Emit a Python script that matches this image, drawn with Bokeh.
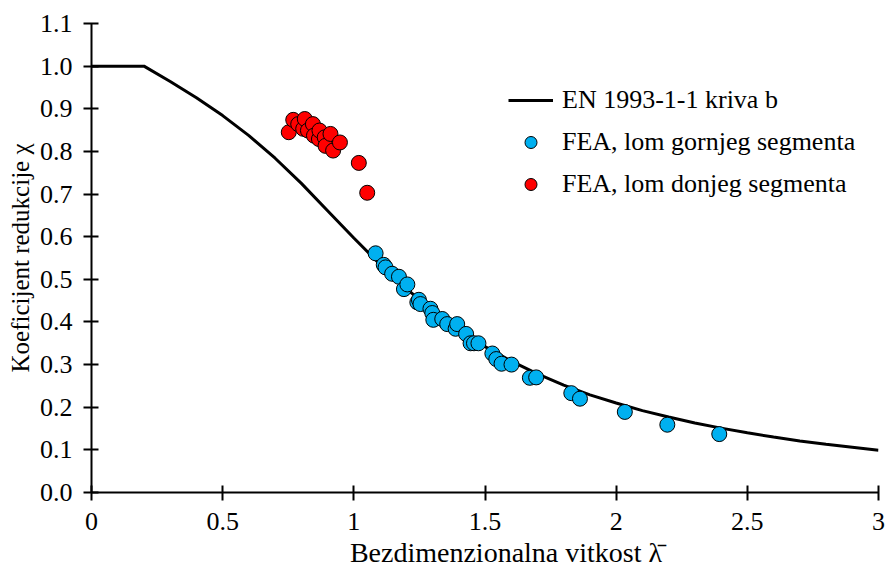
from bokeh.plotting import figure
from bokeh.models import FixedTicker, Legend, LegendItem
from bokeh.embed import file_html
from bokeh.resources import INLINE

# EN 1993-1-1 buckling curve b
curve_x = [0.0, 0.2, 0.3, 0.4, 0.5, 0.6, 0.7, 0.8, 0.9, 1.0, 1.1, 1.2, 1.3, 1.4, 1.5,
           1.6, 1.7, 1.8, 1.9, 2.0, 2.1, 2.2, 2.3, 2.4, 2.5, 2.6, 2.7, 2.8, 2.9, 3.0]
curve_y = [1.0, 1.0, 0.964, 0.926, 0.884, 0.837, 0.784, 0.725, 0.661, 0.597, 0.535,
           0.478, 0.427, 0.382, 0.342, 0.308, 0.278, 0.252, 0.229, 0.210, 0.192,
           0.177, 0.163, 0.151, 0.140, 0.130, 0.121, 0.113, 0.106, 0.099]

# FEA, upper segment failure
blue_x = [1.083, 1.114, 1.121, 1.146, 1.172, 1.191, 1.204, 1.242, 1.248, 1.254, 1.292,
          1.299, 1.303, 1.337, 1.356, 1.388, 1.394, 1.428, 1.445, 1.458, 1.475, 1.528,
          1.543, 1.563, 1.601, 1.671, 1.695, 1.829, 1.862, 2.033, 2.195, 2.393]
blue_y = [0.561, 0.534, 0.528, 0.513, 0.506, 0.477, 0.488, 0.446, 0.452, 0.442, 0.431,
          0.421, 0.405, 0.407, 0.395, 0.384, 0.395, 0.372, 0.350, 0.350, 0.350, 0.326,
          0.313, 0.302, 0.300, 0.269, 0.270, 0.233, 0.220, 0.189, 0.159, 0.137]

# FEA, lower segment failure
red_x = [0.752, 0.769, 0.788, 0.807, 0.813, 0.825, 0.844, 0.848, 0.867, 0.869, 0.889,
         0.892, 0.911, 0.921, 0.947, 1.019, 1.051]
red_y = [0.845, 0.874, 0.864, 0.853, 0.876, 0.849, 0.864, 0.837, 0.829, 0.849, 0.833,
         0.813, 0.841, 0.802, 0.821, 0.773, 0.703]

x_ticks = [0, 0.5, 1, 1.5, 2, 2.5, 3]
x_labels = ["0", "0.5", "1", "1.5", "2", "2.5", "3"]
y_ticks = [0.0, 0.1, 0.2, 0.3, 0.4, 0.5, 0.6, 0.7, 0.8, 0.9, 1.0, 1.1]
y_labels = ["0.0", "0.1", "0.2", "0.3", "0.4", "0.5", "0.6", "0.7", "0.8", "0.9", "1.0", "1.1"]

FONT = "Liberation Serif"

p = figure(width=885, height=570, x_range=(0, 3), y_range=(0, 1.1),
           output_backend="svg", toolbar_location=None,
           min_border_left=91, min_border_right=7, min_border_top=23, min_border_bottom=78)
p.outline_line_color = None
p.xgrid.visible = False
p.ygrid.visible = False
p.background_fill_color = "white"
p.border_fill_color = "white"

r_line = p.line(curve_x, curve_y, line_color="black", line_width=3)
r_blue = p.scatter(blue_x, blue_y, size=15, fill_color="#00B0F0", line_color="black", line_width=1)
r_red = p.scatter(red_x, red_y, size=15, fill_color="#FF0000", line_color="black", line_width=1)

for ax, ticks, labels in ((p.xaxis[0], x_ticks, x_labels), (p.yaxis[0], y_ticks, y_labels)):
    ax.ticker = FixedTicker(ticks=ticks)
    ax.major_label_overrides = {t: l for t, l in zip(ticks, labels)}
    ax.minor_tick_line_color = None
    ax.major_tick_in = 7
    ax.major_tick_out = 8
    ax.axis_line_width = 2
    ax.major_tick_line_width = 2
    ax.axis_line_color = "black"
    ax.major_tick_line_color = "black"
    ax.major_label_text_font = FONT
    ax.major_label_text_font_size = "26px"
    ax.major_label_text_color = "black"
    ax.axis_label_text_font = FONT
    ax.axis_label_text_font_style = "normal"
    ax.axis_label_text_color = "black"

p.xaxis.axis_label = "\u00a0\u00a0\u00a0\u00a0\u00a0\u00a0Bezdimenzionalna vitkost λ\u0304"
p.yaxis.axis_label = "Koeficijent redukcije χ"
p.xaxis.axis_label_text_font_size = "28px"
p.yaxis.axis_label_text_font_size = "25px"
p.xaxis.major_label_standoff = 12
p.xaxis.axis_label_standoff = 4
p.yaxis.major_label_standoff = 11
p.yaxis.axis_label_standoff = 3

legend = Legend(items=[
    LegendItem(label="EN 1993-1-1 kriva b", renderers=[r_line]),
    LegendItem(label="FEA, lom gornjeg segmenta", renderers=[r_blue]),
    LegendItem(label="FEA, lom donjeg segmenta", renderers=[r_red]),
], location=(417, 293))
legend.border_line_color = None
legend.background_fill_alpha = 0
legend.padding = 0
legend.margin = 0
legend.glyph_width = 45
legend.glyph_height = 30
legend.label_height = 30
legend.spacing = 12
legend.label_standoff = 9
legend.label_text_font = FONT
legend.label_text_font_size = "26px"
legend.label_text_color = "black"
p.add_layout(legend)

open("out.html", "w").write(file_html(p, INLINE))
